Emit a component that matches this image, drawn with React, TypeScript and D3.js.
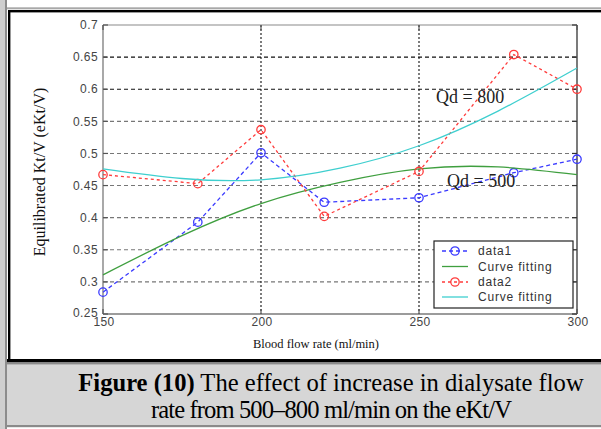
import React from "react";
import * as d3 from "d3";

// Blood flow rate (ml/min) at which eKt/V was measured
const flowRates = [150, 180, 200, 220, 250, 280, 300];
// Qd = 500 ml/min measurements
const data1 = [0.284, 0.393, 0.501, 0.424, 0.431, 0.470, 0.491];
// Qd = 800 ml/min measurements
const data2 = [0.467, 0.453, 0.537, 0.402, 0.472, 0.654, 0.600];

// Fitted curves, sampled along the flow-rate axis
const fitRates = [150, 175, 200, 225, 250, 275, 300];
const fit1 = [0.311, 0.372, 0.422, 0.455, 0.476, 0.479, 0.467];
const fit2 = [0.476, 0.461, 0.459, 0.477, 0.512, 0.566, 0.633];

const xTicks = [150, 200, 250, 300];
const yTicks = [0.25, 0.3, 0.35, 0.4, 0.45, 0.5, 0.55, 0.6, 0.65, 0.7];
const yTickLabels = ["0.25", "0.3", "0.35", "0.4", "0.45", "0.5", "0.55", "0.6", "0.65", "0.7"];
const xGrid = [200, 250];
const yGrid = [0.3, 0.35, 0.4, 0.45, 0.5, 0.55, 0.6, 0.65];

const legendLabels = ["data1", "Curve fitting", "data2", "Curve fitting"];

const W = 601;
const H = 429;
const plot = { left: 103, right: 577, top: 25, bottom: 314 };

const BLUE = "#3a3aff";
const RED = "#ff3b3b";
const GREEN = "#3f9f3f";
const CYAN = "#3fcfcf";
const SANS = "Arial, 'Liberation Sans', Helvetica, sans-serif";
const SERIF = "'Times New Roman', 'Liberation Serif', Times, serif";

export default function App() {
  const x = d3.scaleLinear().domain([150, 300]).range([plot.left, plot.right]);
  const y = d3.scaleLinear().domain([0.25, 0.7]).range([plot.bottom, plot.top]);

  const straight = d3
    .line<number>()
    .x((_, i) => x(flowRates[i]))
    .y((v) => y(v));
  const smooth = d3
    .line<number>()
    .x((_, i) => x(fitRates[i]))
    .y((v) => y(v))
    .curve(d3.curveNatural);

  const series = [
    { kind: "data", values: data1, color: BLUE, dash: "4,3" },
    { kind: "fit", values: fit1, color: GREEN, dash: "" },
    { kind: "data", values: data2, color: RED, dash: "3,3" },
    { kind: "fit", values: fit2, color: CYAN, dash: "" },
  ];

  const legendX = 434;
  const legendY = 241;
  const legendRows = [251, 266.5, 282, 297];

  return (
    <svg
      width={W}
      height={H}
      viewBox={`0 0 ${W} ${H}`}
      style={{ position: "absolute", left: 0, top: 0, background: "#fff" }}
    >
      {/* page frame */}
      <rect x={0} y={0} width={W} height={H} fill="#ffffff" />
      <rect x={0} y={0} width={5} height={H} fill="#cfcfcf" />
      <rect x={5} y={0} width={2} height={H} fill="#8c8c8c" />
      <rect x={7} y={7.3} width={W - 7} height={2} fill="#a8a8a8" />
      <rect x={8} y={10} width={W - 8} height={2.4} fill="#000" />
      <rect x={8} y={10} width={2.4} height={350} fill="#000" />

      {/* caption panel */}
      <rect x={7} y={362} width={W - 7} height={63} fill="#d6d6d6" />
      <rect x={7} y={359} width={W - 7} height={3.4} fill="#000" />
      <rect x={7} y={362.4} width={W - 7} height={2} fill="#8a8a8a" />
      <rect x={7} y={425} width={W - 7} height={2.2} fill="#8a8a8a" />

      {/* grid */}
      {yGrid.map((v) => (
        <line
          key={`gy${v}`}
          x1={plot.left}
          x2={plot.right}
          y1={y(v)}
          y2={y(v)}
          stroke={v >= 0.6 ? "#111" : "#777"}
          strokeWidth={1.1}
          strokeDasharray="4,3"
        />
      ))}
      {xGrid.map((v) => (
        <line
          key={`gx${v}`}
          x1={x(v)}
          x2={x(v)}
          y1={plot.top}
          y2={plot.bottom}
          stroke="#111"
          strokeWidth={1.1}
          strokeDasharray="2,2"
        />
      ))}

      {/* axes box */}
      <line x1={plot.left} x2={plot.right} y1={plot.top} y2={plot.top} stroke="#8a8a8a" strokeWidth={1.2} />
      <line x1={plot.left} x2={plot.right} y1={plot.bottom} y2={plot.bottom} stroke="#7a7a7a" strokeWidth={1.3} />
      <line x1={plot.left} x2={plot.left} y1={plot.top} y2={plot.bottom} stroke="#7a7a7a" strokeWidth={1.3} />
      <line x1={plot.right} x2={plot.right} y1={plot.top} y2={plot.bottom} stroke="#333" strokeWidth={1.3} />

      {/* tick marks */}
      {yTicks.map((v) => (
        <g key={`ty${v}`}>
          <line x1={plot.left} x2={plot.left + 5} y1={y(v)} y2={y(v)} stroke="#555" strokeWidth={1.2} />
          <line x1={plot.right - 5} x2={plot.right} y1={y(v)} y2={y(v)} stroke="#333" strokeWidth={1.2} />
        </g>
      ))}
      {xTicks.map((v) => (
        <g key={`tx${v}`}>
          <line x1={x(v)} x2={x(v)} y1={plot.bottom} y2={plot.bottom - 5} stroke="#555" strokeWidth={1.2} />
          <line x1={x(v)} x2={x(v)} y1={plot.top} y2={plot.top + 5} stroke="#555" strokeWidth={1.2} />
        </g>
      ))}

      {/* tick labels */}
      {yTicks.map((v, i) => (
        <text
          key={`ly${v}`}
          x={plot.left - 5}
          y={y(v) + (v === 0.25 ? -1 : 0)}
          dy="0.35em"
          textAnchor="end"
          fontFamily={SANS}
          fontSize={12}
          letterSpacing={0.4}
          fill="#444"
        >
          {yTickLabels[i]}
        </text>
      ))}
      {xTicks.map((v) => (
        <text
          key={`lx${v}`}
          x={x(v) + 1}
          y={326}
          textAnchor="middle"
          fontFamily={SANS}
          fontSize={12}
          letterSpacing={0.4}
          fill="#444"
        >
          {v}
        </text>
      ))}

      {/* series */}
      {series.map((s, si) =>
        s.kind === "fit" ? (
          <path key={`s${si}`} d={smooth(s.values) || ""} fill="none" stroke={s.color} strokeWidth={1.3} />
        ) : (
          <g key={`s${si}`}>
            <path
              d={straight(s.values) || ""}
              fill="none"
              stroke={s.color}
              strokeWidth={1.3}
              strokeDasharray={s.dash}
            />
            {s.values.map((v, i) => (
              <circle
                key={i}
                cx={x(flowRates[i])}
                cy={y(v)}
                r={4.2}
                fill="none"
                stroke={s.color}
                strokeWidth={1.3}
              />
            ))}
          </g>
        )
      )}

      {/* annotations */}
      <text x={436} y={103} fontFamily={SERIF} fontSize={18} fill="#222">
        Qd = 800
      </text>
      <text x={447} y={187} fontFamily={SERIF} fontSize={18} fill="#222">
        Qd = 500
      </text>

      {/* legend */}
      <rect x={legendX} y={legendY} width={139} height={67} fill="#fff" stroke="#222" strokeWidth={1.2} />
      {series.map((s, i) => (
        <g key={`lg${i}`}>
          <line
            x1={442}
            x2={468}
            y1={legendRows[i]}
            y2={legendRows[i]}
            stroke={s.color}
            strokeWidth={1.3}
            strokeDasharray={s.dash}
          />
          {s.kind === "data" && (
            <circle cx={455} cy={legendRows[i]} r={4.2} fill="none" stroke={s.color} strokeWidth={1.3} />
          )}
          <text
            x={478}
            y={legendRows[i]}
            dy="0.35em"
            fontFamily={SANS}
            fontSize={12}
            letterSpacing={0.8}
            fill="#333"
          >
            {legendLabels[i]}
          </text>
        </g>
      ))}

      {/* axis titles */}
      <text x={316} y={348} textAnchor="middle" fontFamily={SERIF} fontSize={12.5} fill="#111">
        Blood flow rate (ml/min)
      </text>
      <text
        transform="translate(45,172) rotate(-90)"
        textAnchor="middle"
        fontFamily={SERIF}
        fontSize={16}
        fill="#111"
      >
        Equilibrated Kt/V (eKt/V)
      </text>

      {/* caption */}
      <text x={331} y={391} textAnchor="middle" fontFamily={SERIF} fontSize={24.6} fill="#000">
        <tspan fontWeight="bold">Figure (10)</tspan> The effect of increase in dialysate flow
      </text>
      <text
        x={331}
        y={418}
        textAnchor="middle"
        fontFamily={SERIF}
        fontSize={24.6}
        letterSpacing={-0.9}
        fill="#000"
      >
        rate from 500–800 ml/min on the eKt/V
      </text>
    </svg>
  );
}
